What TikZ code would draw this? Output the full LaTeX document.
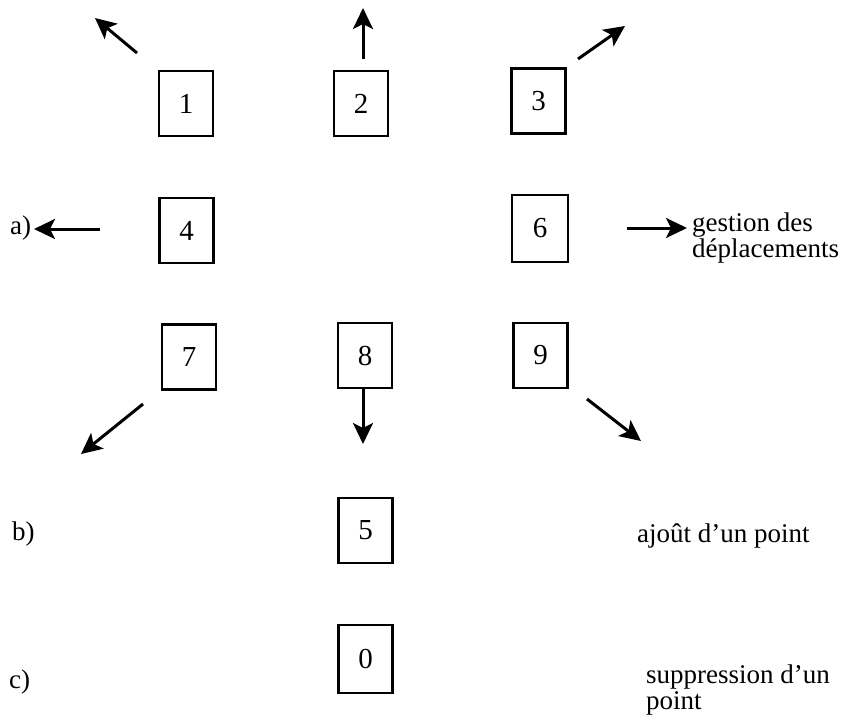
\documentclass[tikz,border=0pt]{standalone}
\usepackage{fontspec}
\setmainfont{Liberation Serif}
\usetikzlibrary{arrows.meta}
\tikzset{
  keybox/.style={draw, line width=2.2pt, minimum width=54pt, minimum height=65pt, inner sep=0pt,
    font=\fontsize{29}{29}\selectfont},
  dirarrow/.style={line width=3pt, -{Stealth[length=21pt,width=20pt,inset=5pt]}},
  lbl/.style={anchor=base west, inner sep=0pt, font=\fontsize{27}{27}\selectfont},
}
\begin{document}
\begin{tikzpicture}[x=1pt,y=-1pt]
\useasboundingbox (0,0) rectangle (849,717);
% boxes
\node[keybox] (b1) at (186,103.5) {1};
\node[keybox] (b2) at (361,103.5) {2};
\node[keybox] (b3) at (538.5,101) {3};
\node[keybox] (b4) at (186.5,230.5) {4};
\node[keybox, minimum width=56pt, minimum height=67pt] (b6) at (540,228.5) {6};
\node[keybox] (b7) at (189,357) {7};
\node[keybox] (b8) at (365,355.5) {8};
\node[keybox] (b9) at (540.5,355.5) {9};
\node[keybox] (b5) at (365.5,530.5) {5};
\node[keybox, minimum height=68pt] (b0) at (365.5,659) {0};
% arrow ends
\coordinate (s1) at (137,53);  \coordinate (e1) at (95,18);
\coordinate (s2) at (363,59);  \coordinate (e2) at (363,8);
\coordinate (s3) at (578,59);  \coordinate (e3) at (625,26);
\coordinate (sa) at (100,229); \coordinate (ea) at (34,229);
\coordinate (s6) at (627,228); \coordinate (e6) at (687,228);
\coordinate (s7) at (143,404); \coordinate (e7) at (81,454);
\coordinate (e8) at (363,444);
\coordinate (s9) at (587,399); \coordinate (e9) at (641,441);
\draw[dirarrow] (s1) -- (e1);
\draw[dirarrow] (s2) -- (e2);
\draw[dirarrow] (s3) -- (e3);
\draw[dirarrow] (sa) -- (ea);
\draw[dirarrow] (s6) -- (e6);
\draw[dirarrow] (s7) -- (e7);
\draw[dirarrow] (b8.south -| e8) -- (e8);
\draw[dirarrow] (s9) -- (e9);
% labels
\node[lbl] (la) at (10,234) {a)};
\node[lbl] (lb) at (12,540) {b)};
\node[lbl] (lc) at (9,688) {c)};
\node[lbl] (g1) at (692,231) {gestion des};
\node[lbl] (g2) at (692,257) {déplacements};
\node[lbl] (aj) at (637,542) {ajoût d’un point};
\node[lbl] (su1) at (646,683) {suppression d’un};
\node[lbl] (su2) at (646,709) {point};
\end{tikzpicture}
\end{document}
